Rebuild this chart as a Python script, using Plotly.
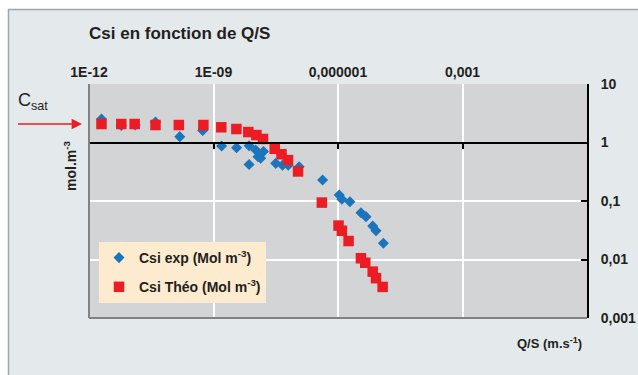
import plotly.graph_objects as go

# ---- data ----
x_exp = [2.0e-12, 6.0e-12, 1.3e-11, 4.0e-11, 1.54e-10, 5.5e-10, 1.57e-9, 3.6e-9, 7.2e-9, 7.2e-9,
         1.04e-8, 1.18e-8, 1.37e-8, 1.6e-8, 3.16e-8, 4.6e-8, 6.3e-8, 1.16e-7, 4.25e-7, 1.07e-6,
         1.24e-6, 1.94e-6, 3.57e-6, 4.72e-6, 6.86e-6, 8.24e-6, 1.24e-5]
y_exp = [2.52, 1.95, 1.99, 2.24, 1.26, 1.60, 0.87, 0.815, 0.88, 0.42,
         0.745, 0.57, 0.54, 0.70, 0.44, 0.41, 0.41, 0.385, 0.229, 0.127,
         0.107, 0.097, 0.063, 0.054, 0.0374, 0.031, 0.0189]

x_theo = [2.0e-12, 6.0e-12, 1.26e-11, 4.0e-11, 1.46e-10, 5.7e-10, 1.54e-9, 3.56e-9, 6.9e-9, 1.08e-8,
          1.56e-8, 2.99e-8, 4.35e-8, 6.26e-8, 1.09e-7, 4.08e-7, 1.03e-6, 1.24e-6, 1.80e-6, 3.57e-6,
          4.54e-6, 6.86e-6, 8.24e-6, 1.19e-5]
y_theo = [2.07, 2.07, 2.07, 1.99, 1.99, 1.99, 1.82, 1.70, 1.51, 1.34,
          1.15, 0.78, 0.63, 0.50, 0.32, 0.094, 0.038, 0.031, 0.0207, 0.0105,
          0.0088, 0.0062, 0.0048, 0.0034]

x_tickvals = [1e-12, 1e-9, 1e-6, 1e-3]
x_ticktext = ["1E-12", "1E-09", "0,000001", "0,001"]
y_tickvals = [10, 1, 0.1, 0.01, 0.001]
y_ticktext = ["10", "1", "0,1", "0,01", "0,001"]

name_exp = "Csi exp (Mol m<sup>-3</sup>)"
name_theo = "Csi Théo (Mol m<sup>-3</sup>)"

FONT = "Liberation Sans, Arial, Helvetica, sans-serif"
TXT = "#231f20"
BLUE = "#1b75bc"
RED = "#ec1c24"

fig = go.Figure()
fig.add_trace(go.Scatter(x=x_exp, y=y_exp, mode="markers", name=name_exp,
                         legendgroup="a",
                         marker=dict(symbol="diamond", size=8.5, color=BLUE)))
fig.add_trace(go.Scatter(x=x_theo, y=y_theo, mode="markers", name=name_theo,
                         legendgroup="b",
                         marker=dict(symbol="square", size=10.5, color=RED)))
# helper trace for the axis line at y = 1
fig.add_trace(go.Scatter(x=[None], y=[None], xaxis="x2", showlegend=False, hoverinfo="skip"))

OFF = 0  # body margin removed in post_script
W, H = 638, 375
L, T = 89 - OFF, 84 - OFF
pw, ph = 498, 234
R, B = W - L - pw, H - T - ph

def px(x):
    return (x - OFF - L) / pw

def py(y):
    return (T + ph - (y - OFF)) / ph

shapes = [
    # outer frame with border
    dict(type="rect", xref="paper", yref="paper", x0=px(8.5), x1=px(700), y0=py(700), y1=py(9.5),
         fillcolor="#e4e9ec", line=dict(color="#9ea7ac", width=1.5), layer="below"),
    # plot area
    dict(type="rect", xref="paper", yref="paper", x0=0, x1=1, y0=0, y1=1,
         fillcolor="#d3d4d6", line=dict(width=0), layer="below"),
    # left and bottom grey borders
    dict(type="line", xref="paper", yref="paper", x0=0, x1=0, y0=0, y1=1,
         line=dict(color="#808285", width=2)),
    dict(type="line", xref="paper", yref="paper", x0=0, x1=1, y0=0, y1=0,
         line=dict(color="#808285", width=2)),
]

annotations = [
    dict(text="Csi en fonction de Q/S", xref="paper", yref="paper", x=px(87), y=py(33),
         xanchor="left", yanchor="middle", showarrow=False,
         font=dict(family=FONT, size=17, color=TXT, weight="bold")),
    dict(text="C<sub>sat</sub>", xref="paper", yref="paper", x=px(16), y=py(102),
         xanchor="left", yanchor="middle", showarrow=False,
         font=dict(family=FONT, size=18, color=TXT)),
    dict(text=" ", xref="paper", yref="paper", x=px(82), y=py(124), ax=-67, ay=0,
         showarrow=True, arrowhead=2, arrowsize=1.3, arrowwidth=1.6, arrowcolor=RED, standoff=0),
    dict(text="mol.m<sup>-3</sup>", xref="paper", yref="paper", x=px(70), y=py(166),
         xanchor="center", yanchor="middle", textangle=-90, showarrow=False,
         font=dict(family=FONT, size=14, color=TXT, weight="bold")),
    dict(text="Q/S (m.s<sup>-1</sup>)", xref="paper", yref="paper", x=px(584), y=py(343),
         xanchor="right", yanchor="middle", showarrow=False,
         font=dict(family=FONT, size=13, color=TXT, weight="bold")),
]

fig.update_layout(
    width=W, height=H,
    margin=dict(l=L, r=R, t=T, b=B, pad=0, autoexpand=False),
    paper_bgcolor="white",
    plot_bgcolor="rgba(0,0,0,0)",
    font=dict(family=FONT, color=TXT),
    xaxis=dict(type="log", range=[-12, 0], side="top", tickvals=x_tickvals, ticktext=x_ticktext,
               ticks="", showline=False, showgrid=True, gridcolor="white", gridwidth=2,
               zeroline=False, ticklabelstandoff=3, automargin=False,
               tickfont=dict(family=FONT, size=14, color=TXT, weight="bold")),
    xaxis2=dict(type="log", range=[-12, 0], overlaying="x", anchor="free", position=0.75,
                side="bottom", showline=True, linecolor="black", linewidth=2,
                ticks="outside", ticklen=5, tickwidth=2, tickcolor="black", automargin=False,
                tickvals=x_tickvals, showticklabels=False, showgrid=False, zeroline=False),
    yaxis=dict(type="log", range=[-3, 1], side="right", tickvals=y_tickvals, ticktext=y_ticktext,
               showline=True, linecolor="black", linewidth=2, automargin=False,
               ticks="inside", ticklen=6, tickwidth=2, tickcolor="black",
               showgrid=True, gridcolor="white", gridwidth=2, zeroline=False,
               ticklabelstandoff=9,
               tickfont=dict(family=FONT, size=14, color=TXT, weight="bold")),
    showlegend=True,
    legend=dict(x=px(99), y=py(242), xanchor="left", yanchor="top",
                bgcolor="#fdebd0", borderwidth=0, traceorder="grouped", tracegroupgap=8,
                font=dict(family=FONT, size=14, color=TXT, weight="bold"),
                itemwidth=30),
    shapes=shapes,
    annotations=annotations,
)

fig.write_html("out.html",
               config={"displayModeBar": False},
               post_script="document.body.style.margin='0';"
                           "document.documentElement.style.overflow='hidden';"
                           "document.body.style.overflow='hidden';")
